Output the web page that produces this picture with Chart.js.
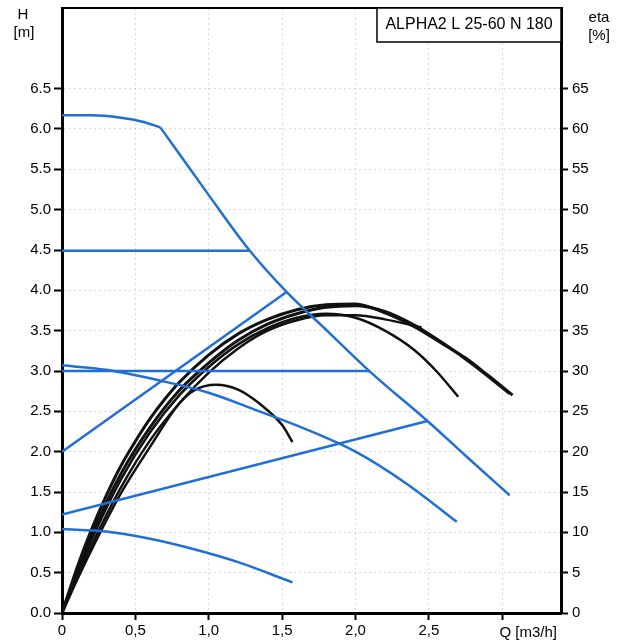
<!DOCTYPE html>
<html>
<head>
<meta charset="utf-8">
<script src="https://cdn.jsdelivr.net/npm/chart.js@4.4.0/dist/chart.umd.min.js"></script>
<style>
  html, body { margin: 0; padding: 0; background: #fff; }
  #wrap { width: 621px; height: 642px; }
</style>
</head>
<body>
<div id="wrap"><canvas id="pumpChart" width="621" height="642"></canvas></div>
<script>
// flow Q [m3/h], head H [m], efficiency eta [%]
const maxTopQ = [0, 0.2, 0.4, 0.55, 0.67];
const maxTopH = [6.17, 6.17, 6.14, 6.09, 6.02];
const maxDropQ = [0.67, 1.0, 1.28, 1.53, 1.8, 2.1, 2.49, 2.75, 3.05];
const maxDropH = [6.02, 5.18, 4.49, 3.98, 3.51, 2.99, 2.38, 1.95, 1.46];

const constHighQ = [0, 1.28];
const constHighH = [4.49, 4.49];
const constLowQ = [0, 2.1];
const constLowH = [3.0, 3.0];

const propHighQ = [0, 1.53];
const propHighH = [2.0, 3.98];
const propLowQ = [0, 2.49];
const propLowH = [1.22, 2.38];

const speedMidQ = [0, 0.3, 0.67, 1.0, 1.3, 1.62, 2.0, 2.35, 2.69];
const speedMidH = [3.07, 3.015, 2.88, 2.73, 2.53, 2.31, 2.0, 1.6, 1.13];
const speedLowQ = [0, 0.3, 0.6, 0.9, 1.2, 1.57];
const speedLowH = [1.04, 1.01, 0.92, 0.79, 0.63, 0.38];

const etaBig1Q = [0, 0.1, 0.2, 0.3, 0.4, 0.5, 0.6, 0.7, 0.8, 1.0, 1.2, 1.4, 1.6, 1.8, 2.0, 2.2, 2.4, 2.6, 2.75, 2.9, 3.07];
const etaBig1 = [0, 5.5, 10.3, 14.5, 18.2, 21.3, 24.1, 26.5, 28.6, 32.0, 34.6, 36.4, 37.6, 38.2, 38.3, 37.2, 35.5, 33.3, 31.6, 29.5, 27.0];
const etaBig2Q = [0, 0.1, 0.2, 0.4, 0.6, 0.8, 1.0, 1.2, 1.4, 1.6, 1.8, 2.0, 2.2, 2.4, 2.6, 2.8, 3.05];
const etaBig2 = [0, 5.0, 9.6, 17.2, 23.0, 27.6, 31.0, 33.8, 35.8, 37.1, 37.9, 38.1, 37.4, 35.7, 33.4, 30.8, 27.2];
const etaMidQ = [0, 0.1, 0.2, 0.4, 0.6, 0.8, 1.0, 1.2, 1.4, 1.6, 1.8, 2.0, 2.2, 2.4, 2.55, 2.7];
const etaMid = [0, 4.6, 9.0, 16.5, 22.4, 27.0, 30.5, 33.3, 35.3, 36.6, 37.1, 36.6, 35.0, 32.6, 30.0, 26.8];
const etaFlatQ = [0, 0.1, 0.2, 0.4, 0.6, 0.8, 1.0, 1.2, 1.4, 1.6, 1.8, 2.0, 2.2, 2.45];
const etaFlat = [0, 4.2, 8.3, 15.5, 21.4, 26.0, 29.8, 32.8, 35.0, 36.3, 36.9, 36.9, 36.4, 35.4];
const etaSmallQ = [0, 0.1, 0.2, 0.4, 0.6, 0.8, 0.9, 1.05, 1.2, 1.35, 1.5, 1.57];
const etaSmall = [0, 4.0, 7.8, 14.8, 20.6, 26.0, 27.6, 28.3, 27.7, 25.9, 23.3, 21.2];

const qTicks = [0, 0.5, 1.0, 1.5, 2.0, 2.5, 3.0];
const hTicks = [0, 0.5, 1, 1.5, 2, 2.5, 3, 3.5, 4, 4.5, 5, 5.5, 6, 6.5];
const etaTicks = [0, 5, 10, 15, 20, 25, 30, 35, 40, 45, 50, 55, 60, 65];

const BLUE = '#1f6fd6';
const BLACK = '#111111';

function pts(qs, vs) {
  return qs.map((q, i) => ({ x: q, y: vs[i] }));
}

function blue(qs, hs, smooth) {
  return {
    data: pts(qs, hs), yAxisID: 'y',
    borderColor: BLUE, borderWidth: 2.5,
    pointRadius: 0, fill: false,
    cubicInterpolationMode: smooth ? 'monotone' : 'default', tension: 0
  };
}

function black(qs, es, w) {
  return {
    data: pts(qs, es), yAxisID: 'y2',
    borderColor: BLACK, borderWidth: w,
    pointRadius: 0, fill: false,
    cubicInterpolationMode: 'monotone'
  };
}

// vertical axes: no extra room for half-labels above/below the plot
function fitVertical(width) {
  return axis => {
    axis.width = width;
    axis.paddingTop = 0;
    axis.paddingBottom = 0;
  };
}

const gridColor = 'rgba(165,175,200,0.45)';
const tickFont = { family: "'Liberation Sans', Arial, sans-serif", size: 15 };

const sheetLabels = {
  id: 'sheetLabels',
  afterDraw(chart) {
    const c = chart.ctx;
    const a = chart.chartArea;
    c.save();
    // top frame line
    c.strokeStyle = 'black';
    c.lineWidth = 2;
    c.beginPath();
    c.moveTo(a.left, a.top);
    c.lineTo(a.right, a.top);
    c.stroke();
    // type box
    c.fillStyle = 'white';
    c.fillRect(377, a.top, a.right - 377, 34);
    c.lineWidth = 1.5;
    c.strokeRect(377, a.top, a.right - 377, 34);
    c.fillStyle = 'black';
    c.font = "16px 'Liberation Sans', Arial, sans-serif";
    c.textAlign = 'center';
    c.textBaseline = 'middle';
    c.fillText('ALPHA2 L 25-60 N 180', (377 + a.right) / 2, a.top + 17);
    // axis names
    c.font = "15px 'Liberation Sans', Arial, sans-serif";
    c.fillText('H', 23, 15);
    c.fillText('[m]', 24, 33);
    c.fillText('eta', 599, 18);
    c.fillText('[%]', 599, 36);
    c.textAlign = 'right';
    c.fillText('Q [m3/h]', a.right - 4, a.bottom + 20);
    c.restore();
  }
};

new Chart(document.getElementById('pumpChart'), {
  type: 'line',
  data: {
    datasets: [
      blue(maxTopQ, maxTopH, true),
      blue(maxDropQ, maxDropH, true),
      blue(constHighQ, constHighH, false),
      blue(constLowQ, constLowH, false),
      blue(propHighQ, propHighH, false),
      blue(propLowQ, propLowH, false),
      blue(speedMidQ, speedMidH, true),
      blue(speedLowQ, speedLowH, true),
      black(etaBig1Q, etaBig1, 3),
      black(etaBig2Q, etaBig2, 3),
      black(etaMidQ, etaMid, 2.5),
      black(etaFlatQ, etaFlat, 2.5),
      black(etaSmallQ, etaSmall, 2.5)
    ]
  },
  options: {
    responsive: false,
    animation: false,
    devicePixelRatio: 1,
    layout: { padding: { top: 8, left: 0, right: 0, bottom: 0 } },
    plugins: {
      legend: { display: false },
      tooltip: { enabled: false },
      title: { display: false }
    },
    scales: {
      x: {
        type: 'linear',
        min: 0, max: 3.4,
        afterBuildTicks: axis => { axis.ticks = qTicks.map(v => ({ value: v })); },
        afterFit: axis => { axis.height = 29; },
        ticks: {
          color: 'black', font: tickFont, padding: 2, maxRotation: 0,
          callback: v => v === 0 ? '0' : (v >= 3 ? '' : v.toFixed(1).replace('.', ','))
        },
        grid: { color: gridColor, tickColor: 'black', tickLength: 7, tickWidth: 2 },
        border: { color: 'black', width: 3, dash: [2, 3] }
      },
      y: {
        position: 'left',
        min: 0, max: 7.5,
        afterBuildTicks: axis => { axis.ticks = hTicks.map(v => ({ value: v })); },
        afterFit: fitVertical(62),
        ticks: { color: 'black', font: tickFont, padding: 3, callback: v => v.toFixed(1) },
        grid: { color: gridColor, tickColor: 'black', tickLength: 8, tickWidth: 2 },
        border: { color: 'black', width: 3, dash: [2, 3] }
      },
      y2: {
        position: 'right',
        min: 0, max: 75,
        afterBuildTicks: axis => { axis.ticks = etaTicks.map(v => ({ value: v })); },
        afterFit: fitVertical(60),
        ticks: { color: 'black', font: tickFont, padding: 4, callback: v => String(v) },
        grid: { drawOnChartArea: false, tickColor: 'black', tickLength: 7, tickWidth: 2 },
        border: { color: 'black', width: 3 }
      }
    }
  },
  plugins: [sheetLabels]
});
</script>
</body>
</html>
